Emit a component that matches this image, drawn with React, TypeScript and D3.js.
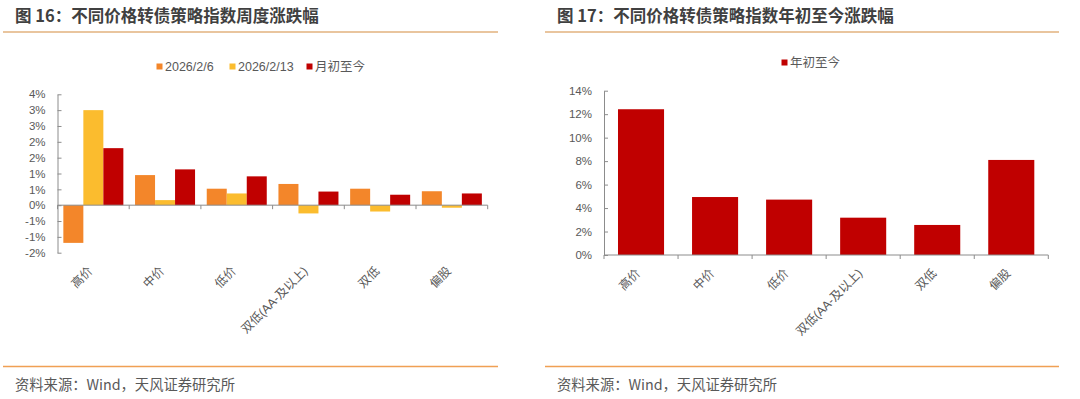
import React, { useEffect, useRef } from "react";
import * as d3 from "d3";

// 图16 周度涨跌幅 (%)
const categories = ["高价", "中价", "低价", "双低(AA-及以上)", "双低", "偏股"];
const weekSeries = ["2026/2/6", "2026/2/13", "月初至今"];
const week0206 = [-1.19, 0.95, 0.52, 0.67, 0.52, 0.44];
const week0213 = [3.0, 0.16, 0.37, -0.26, -0.2, -0.08];
const monthToDate = [1.8, 1.13, 0.91, 0.43, 0.33, 0.37];
const leftTicks = [-1.5, -1, -0.5, 0, 0.5, 1, 1.5, 2, 2.5, 3, 3.5];

// 图17 年初至今涨跌幅 (%)
const ytdSeries = ["年初至今"];
const yearToDate = [12.42, 4.94, 4.72, 3.18, 2.56, 8.1];
const rightTicks = [0, 2, 4, 6, 8, 10, 12, 14];

const colors = ["#F3862A", "#FBBC2E", "#C00000"];
const FONT = "'Liberation Sans', Arial, 'Noto Sans CJK SC', sans-serif";
const AXIS = "#8C8C8C";
const LABEL = "#595959";

const pct = (v: number) => (v < 0 ? "-" : "") + Math.round(Math.abs(v)) + "%";

export default function App() {
  const ref = useRef<SVGSVGElement>(null);

  useEffect(() => {
    const svg = d3.select(ref.current);
    svg.selectAll("*").remove();
    svg.style("font-family", FONT);

    // headers and footers
    const titles = [
      { x: 15, text: "图 16：不同价格转债策略指数周度涨跌幅", x0: 3, x1: 498 },
      { x: 557, text: "图 17：不同价格转债策略指数年初至今涨跌幅", x0: 545, x1: 1059 },
    ];
    titles.forEach(t => {
      svg.append("text").attr("x", t.x).attr("y", 21.5)
        .attr("font-size", 16.5).attr("font-weight", "bold").attr("fill", "#404040")
        .style("font-family", "'Noto Sans CJK SC', sans-serif")
        .text(t.text);
      svg.append("line").attr("x1", t.x0).attr("x2", t.x1).attr("y1", 32).attr("y2", 32)
        .attr("stroke", "#E2B27E").attr("stroke-width", 1.6);
      svg.append("line").attr("x1", t.x0).attr("x2", t.x1).attr("y1", 366.5).attr("y2", 366.5)
        .attr("stroke", "#F0A054").attr("stroke-width", 1.3);
      svg.append("text").attr("x", t.x).attr("y", 390)
        .attr("font-size", 14.3).attr("fill", "#595959")
        .style("font-family", "'Noto Sans CJK SC', sans-serif")
        .text("资料来源：Wind，天风证券研究所");
    });

    const drawXAxis = (g: any, x0: any, y0: number, yBottom: number) => {
      const [a, b] = x0.range();
      g.append("line").attr("x1", a).attr("x2", b).attr("y1", y0).attr("y2", y0)
        .attr("stroke", AXIS).attr("stroke-width", 1);
      const step = x0.step();
      d3.range(categories.length + 1).forEach(i => {
        const xx = a + i * step;
        g.append("line").attr("x1", xx).attr("x2", xx).attr("y1", y0).attr("y2", y0 + 4)
          .attr("stroke", AXIS).attr("stroke-width", 1);
      });
      categories.forEach(c => {
        const cx = (x0(c) as number) + x0.bandwidth() / 2;
        g.append("text")
          .attr("transform", `translate(${cx},${yBottom + 19}) rotate(-45)`)
          .attr("text-anchor", "end").attr("font-size", 12).attr("fill", LABEL)
          .text(c);
      });
    };

    const drawYAxis = (g: any, y: any, xAxis: number, ticks: number[], fmt: (v: number) => string) => {
      const ax = d3.axisLeft(y).tickValues(ticks).tickFormat(fmt as any)
        .tickSizeInner(-4).tickSizeOuter(0).tickPadding(12);
      const gy = g.append("g").attr("transform", `translate(${xAxis},0)`).call(ax);
      gy.select(".domain").attr("stroke", AXIS);
      gy.selectAll(".tick line").attr("stroke", AXIS);
      gy.selectAll(".tick text").attr("fill", LABEL).attr("font-size", 11.5)
        .style("font-family", FONT);
    };

    // ---- left chart ----
    const L = svg.append("g");
    const lx0 = d3.scaleBand<string>().domain(categories).range([57.5, 487.7])
      .paddingInner(0.163).paddingOuter(0.0815);
    const lx1 = d3.scaleBand<string>().domain(weekSeries).range([0, lx0.bandwidth()]);
    const ly = d3.scaleLinear().domain([-1.5, 3.5]).range([252.7, 94.3]);
    const leftValues = [week0206, week0213, monthToDate];

    drawYAxis(L, ly, 57.5, leftTicks, pct);
    weekSeries.forEach((s, si) => {
      L.append("g").selectAll("rect").data(leftValues[si]).join("rect")
        .attr("x", (_: number, i: number) => (lx0(categories[i]) as number) + (lx1(s) as number))
        .attr("width", lx1.bandwidth())
        .attr("y", (d: number) => ly(Math.max(0, d)))
        .attr("height", (d: number) => Math.abs(ly(d) - ly(0)))
        .attr("fill", colors[si]);
    });
    drawXAxis(L, lx0, ly(0), 252.7);

    const legX = [156.5, 229.5, 306.5];
    weekSeries.forEach((s, i) => {
      L.append("rect").attr("x", legX[i]).attr("y", 63.5).attr("width", 6).attr("height", 6)
        .attr("fill", colors[i]);
      L.append("text").attr("x", legX[i] + 8.5).attr("y", 71).attr("font-size", 12.5)
        .attr("fill", LABEL).text(s);
    });

    // ---- right chart ----
    const R = svg.append("g");
    const rx = d3.scaleBand<string>().domain(categories).range([604, 1048.3])
      .paddingInner(0.378).paddingOuter(0.189);
    const ry = d3.scaleLinear().domain([0, 14]).range([255, 90.7]);

    drawYAxis(R, ry, 604, rightTicks, pct);
    R.append("g").selectAll("rect").data(yearToDate).join("rect")
      .attr("x", (_: number, i: number) => rx(categories[i]) as number)
      .attr("width", rx.bandwidth())
      .attr("y", (d: number) => ry(d))
      .attr("height", (d: number) => ry(0) - ry(d))
      .attr("fill", colors[2]);
    drawXAxis(R, rx, ry(0), 255);

    R.append("rect").attr("x", 781.5).attr("y", 59.5).attr("width", 6).attr("height", 6)
      .attr("fill", colors[2]);
    R.append("text").attr("x", 790).attr("y", 67).attr("font-size", 12.5)
      .attr("fill", LABEL).text(ytdSeries[0]);
  }, []);

  return (
    <div style={{ position: "absolute", left: 0, top: 0 }}>
      <svg ref={ref} width={1080} height={399} style={{ display: "block", background: "#fff" }} />
    </div>
  );
}
